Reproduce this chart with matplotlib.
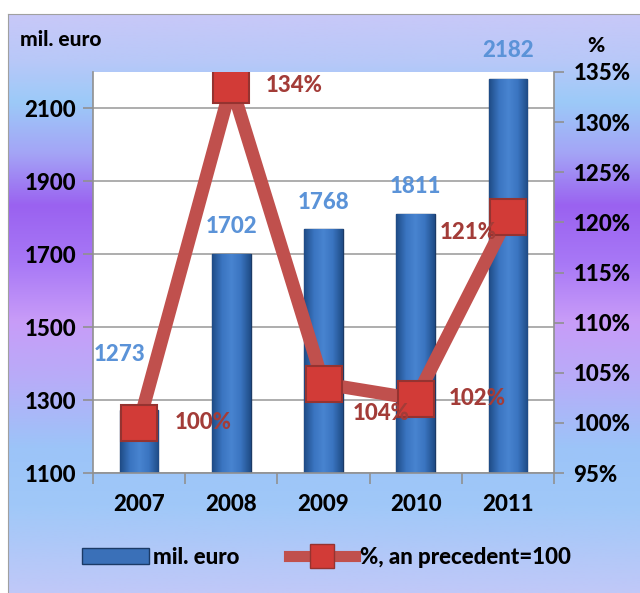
import matplotlib.pyplot as plt
import numpy as np
from matplotlib.patches import Patch
from matplotlib.lines import Line2D
from matplotlib.colors import LinearSegmentedColormap

years = ['2007', '2008', '2009', '2010', '2011']
mil_euro = [1273, 1702, 1768, 1811, 2182]
pct = [100, 133.7, 103.9, 102.4, 120.5]
pct_labels = ['100%', '134%', '104%', '102%', '121%']
left_ticks = [1100, 1300, 1500, 1700, 1900, 2100]
right_ticks = [95, 100, 105, 110, 115, 120, 125, 130, 135]

plt.rcParams['font.family'] = ['Lato', 'DejaVu Sans']
plt.rcParams['font.weight'] = 900
FW = 900
FS = 16

W, H = 640, 593
fig = plt.figure(figsize=(W / 100, H / 100), dpi=100)
fig.patch.set_facecolor('white')

# background gradient of the chart area
bg = fig.add_axes([8 / W, 0, (W - 8) / W, (H - 14) / H])
stops = [(0.0, '#c8c8f8'), (0.08, '#b8c8f8'), (0.15, '#9ccaf8'),
         (0.24, '#a4a4f6'), (0.33, '#9a62f0'), (0.43, '#a878f6'),
         (0.53, '#c89cf8'), (0.63, '#b8acf8'), (0.75, '#9cc4f8'),
         (0.85, '#a0c8f8'), (1.0, '#c0c8f8')]
cmap = LinearSegmentedColormap.from_list('bg', stops)
bg.imshow(np.linspace(0, 1, 256).reshape(-1, 1), aspect='auto', cmap=cmap,
          extent=[0, 1, 0, 1])
bg.set_xticks([])
bg.set_yticks([])
for s in bg.spines.values():
    s.set_color('#a0a0a0')
bg.spines['right'].set_visible(False)
bg.spines['bottom'].set_visible(False)
bg.set_zorder(-10)

ax = fig.add_axes([93 / W, 1 - 473 / H, 461 / W, 401 / H])
ax.set_facecolor('white')
x = np.arange(len(years))
ax.set_xlim(-0.5, len(years) - 0.5)
ax.set_ylim(1100, 2200)
ymin = ax.get_ylim()[0]

bars = ax.bar(x, mil_euro, width=0.42, color='#3a70b8', edgecolor='#1b3a66',
              linewidth=1, zorder=2)
bar_cmap = LinearSegmentedColormap.from_list(
    'bar', ['#1f4c86', '#3a74c0', '#4884d0', '#3a74c0', '#1f4c86'])
for b in bars:
    x0, w = b.get_x(), b.get_width()
    im = ax.imshow(np.linspace(0, 1, 64).reshape(1, -1), cmap=bar_cmap,
                   aspect='auto', extent=[x0, x0 + w, ymin, b.get_height()],
                   zorder=2.5)
    im.set_clip_path(b)
ax.set_xlim(-0.5, len(years) - 0.5)
ax.set_ylim(1100, 2200)

ax.set_yticks(left_ticks)
ax.set_yticklabels([str(v) for v in left_ticks], fontsize=FS, fontweight=FW)
ax.grid(axis='y', color='#a0a0a0', linewidth=1.2, zorder=1)
ax.set_axisbelow(True)
ax.set_xticks(x)
ax.set_xticklabels(years, fontsize=FS, fontweight=FW)
ax.set_xticks(np.arange(-0.5, len(years)), minor=True)
ax.tick_params(axis='x', which='major', length=0, pad=15)
ax.tick_params(axis='x', which='minor', length=8, color='#909090', width=1.2)
ax.tick_params(axis='y', length=7, color='#909090', width=1.2, pad=5)
for s in ['top', 'right']:
    ax.spines[s].set_visible(False)
for s in ['left', 'bottom']:
    ax.spines[s].set_color('#909090')
    ax.spines[s].set_linewidth(1.2)

# bar value labels
label_offsets = [(-20, 55), (0, 27), (0, 27), (0, 27), (0, 28)]
for xi, v, off in zip(x, mil_euro, label_offsets):
    ax.annotate(str(v), (xi, v), xytext=off, textcoords='offset pixels',
                ha='center', va='center', color='#5b93d8', fontsize=FS,
                fontweight=FW, zorder=5)

ax2 = ax.twinx()
ax2.plot(x, pct, color='#c0504d', linewidth=9.5, solid_joinstyle='miter',
         marker='s', markersize=26, markerfacecolor='#d23b37',
         markeredgecolor='#953330', markeredgewidth=1.5, zorder=3)
ax2.set_ylim(95, 135)
ax2.set_yticks(right_ticks)
ax2.set_yticklabels([f'{v}%' for v in right_ticks], fontsize=FS, fontweight=FW)
ax2.tick_params(axis='y', length=7, color='#909090', width=1.2, pad=7)
for s in ['top', 'left', 'bottom']:
    ax2.spines[s].set_visible(False)
ax2.spines['right'].set_color('#909090')
ax2.spines['right'].set_linewidth(1.2)

pct_offsets = [(64, 0), (63, 0), (58, -30), (62, 0), (-40, -15)]
for xi, v, lab, off in zip(x, pct, pct_labels, pct_offsets):
    ax2.annotate(lab, (xi, v), xytext=off, textcoords='offset pixels',
                 ha='center', va='center', color='#a33c38', fontsize=FS,
                 fontweight=FW, zorder=6)

fig.text(20 / W, 1 - 40 / H, 'mil. euro', fontsize=15, fontweight=FW,
         va='center', ha='left')
fig.text(596 / W, 1 - 45 / H, '%', fontsize=15, fontweight=FW,
         va='center', ha='center')

handles = [Patch(facecolor='#3a70b8', edgecolor='#1b3a66'),
           Line2D([0], [0], color='#c0504d', linewidth=8, marker='s',
                  markersize=17, markerfacecolor='#d23b37',
                  markeredgecolor='#953330')]
fig.legend(handles, ['mil. euro', '%, an precedent=100'], loc='center',
           bbox_to_anchor=(0.51, 1 - 557 / H), ncol=2, frameon=False,
           prop={'size': FS, 'weight': FW}, handlelength=3.0,
           handleheight=0.7, columnspacing=2.2, handletextpad=0.2)

fig.savefig('out.png', dpi=100)
